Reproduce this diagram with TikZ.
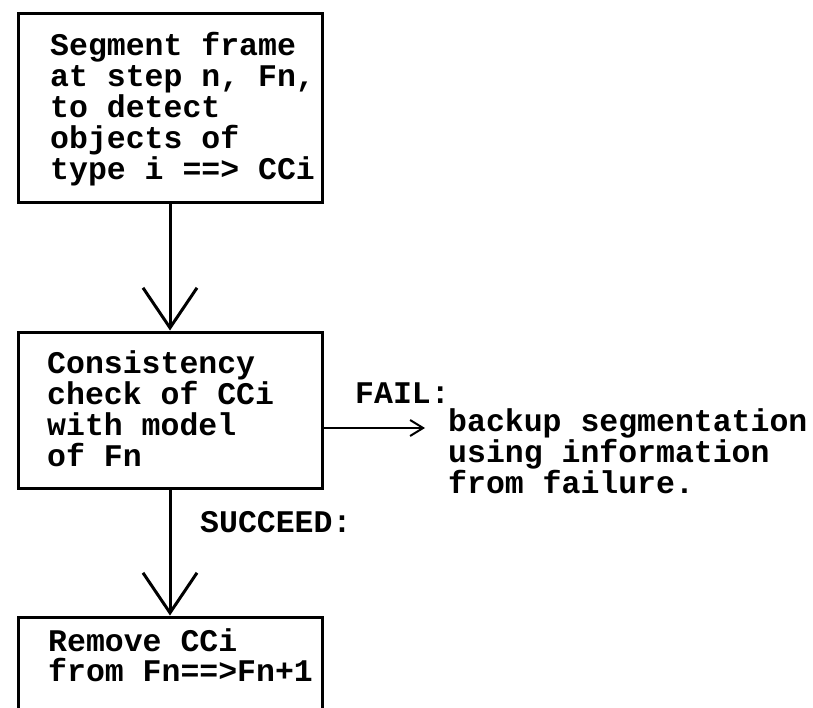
\documentclass[tikz,border=0pt]{standalone}
\usepackage{fontspec}
\newfontfamily\typewriter{Liberation Mono}
\usetikzlibrary{arrows.meta}

\begin{document}
\begin{tikzpicture}[x=1pt,y=-1pt]
				\path [use as bounding box, clip] (0,0) rectangle (813,708);
				\begin{scope}[every node/.style={rectangle,draw,line width=3pt,inner sep=0pt,minimum width=304pt}]
					\node (seg) [minimum height=189pt] at (170,108.5) {};
					\node (check) [minimum height=156pt] at (170,410) {};
					\node (remove) [minimum height=128pt] at (170,681) {};
				\end{scope}
				
				% base = baseline of the last line
				\begin{scope}[every node/.style={anchor=base west,align=left,inner sep=0pt,
						font=\typewriter\bfseries\fontsize{31.5}{31}\selectfont}]
					\node (segtext) at (50,180) {Segment frame\\at step n, Fn,\\to detect\\objects of\\type i ==> CCi};
					\node (checktext) at (47,466) {Consistency\\check of CCi\\with model\\of Fn};
					\node (removetext) [font=\typewriter\bfseries\fontsize{31.5}{30}\selectfont] at (48,681) {Remove CCi\\from Fn==>Fn+1};
					\node (fail) at (355,403) {FAIL:};
					\node (succeed) at (200,532) {SUCCEED:};
					\node (backup) [font=\typewriter\bfseries\fontsize{31.5}{29.5}\selectfont] at (448,493) {backup segmentation\\using information\\from failure.};
				\end{scope}
				
				\coordinate (failend) at (425,428);
				\begin{scope}[>={Straight Barb[length=40pt,width=54pt]}, line width=3pt]
					\path [->] (seg) edge (check);
					\path [->] (check) edge (remove);
				\end{scope}
				\path [->, >={Straight Barb[length=13pt,width=16pt]}, line width=2pt] (check.east |- failend) edge (failend);%FAIL%
			\end{tikzpicture}
\end{document}
